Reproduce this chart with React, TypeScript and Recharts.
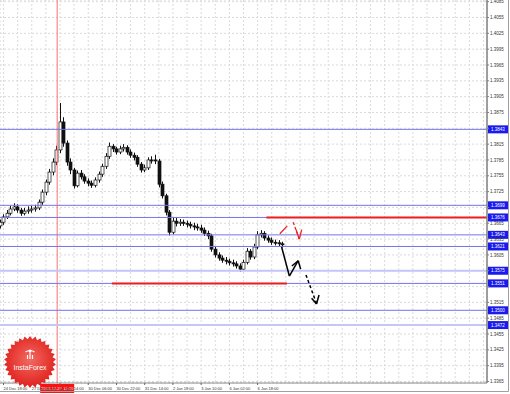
import React from "react";
import { ComposedChart, XAxis, YAxis, CartesianGrid, Bar, ReferenceLine } from "recharts";

// H1 candles (one bar per slot)
const opens = [
  1.3660, 1.3667, 1.3677, 1.3684, 1.3692, 1.3696, 1.3690, 1.3684, 1.3688, 1.3690,
  1.3692, 1.3694, 1.3705, 1.3724, 1.3743, 1.3762, 1.3781, 1.3804, 1.3857, 1.3817,
  1.3781, 1.3766, 1.3736, 1.3760, 1.3753, 1.3745, 1.3741, 1.3737, 1.3747, 1.3758,
  1.3773, 1.3792, 1.3811, 1.3806, 1.3800, 1.3806, 1.3809, 1.3800, 1.3794, 1.3790,
  1.3777, 1.3766, 1.3770, 1.3785, 1.3785, 1.3783, 1.3739, 1.3717, 1.3686, 1.3648,
  1.3669, 1.3665, 1.3667, 1.3665, 1.3663, 1.3660, 1.3658, 1.3656, 1.3652, 1.3646,
  1.3641, 1.3616, 1.3605, 1.3599, 1.3595, 1.3593, 1.3590, 1.3588, 1.3584, 1.3578,
  1.3591, 1.3612, 1.3601, 1.3620, 1.3643, 1.3646, 1.3637, 1.3633, 1.3629, 1.3628,
  1.3626,
];
const closes = [
  1.3667, 1.3677, 1.3684, 1.3692, 1.3696, 1.3690, 1.3684, 1.3688, 1.3690, 1.3692,
  1.3694, 1.3705, 1.3724, 1.3743, 1.3762, 1.3781, 1.3804, 1.3857, 1.3817, 1.3781,
  1.3766, 1.3736, 1.3760, 1.3753, 1.3745, 1.3741, 1.3737, 1.3747, 1.3758, 1.3773,
  1.3792, 1.3811, 1.3806, 1.3800, 1.3806, 1.3809, 1.3800, 1.3794, 1.3790, 1.3777,
  1.3766, 1.3770, 1.3785, 1.3785, 1.3783, 1.3739, 1.3717, 1.3686, 1.3648, 1.3669,
  1.3665, 1.3667, 1.3665, 1.3663, 1.3660, 1.3658, 1.3656, 1.3652, 1.3646, 1.3641,
  1.3616, 1.3605, 1.3599, 1.3595, 1.3593, 1.3590, 1.3588, 1.3584, 1.3578, 1.3591,
  1.3612, 1.3601, 1.3620, 1.3643, 1.3646, 1.3637, 1.3633, 1.3629, 1.3628, 1.3626,
  1.3624,
];
const highs = [
  1.3672, 1.3682, 1.3690, 1.3698, 1.3703, 1.3701, 1.3694, 1.3694, 1.3697, 1.3698,
  1.3700, 1.3710, 1.3729, 1.3748, 1.3768, 1.3788, 1.3812, 1.3893, 1.3866, 1.3822,
  1.3788, 1.3770, 1.3765, 1.3766, 1.3758, 1.3750, 1.3746, 1.3752, 1.3763, 1.3778,
  1.3798, 1.3818, 1.3815, 1.3810, 1.3812, 1.3815, 1.3813, 1.3805, 1.3799, 1.3794,
  1.3781, 1.3776, 1.3790, 1.3792, 1.3795, 1.3787, 1.3744, 1.3721, 1.3690, 1.3675,
  1.3676, 1.3673, 1.3672, 1.3670, 1.3668, 1.3666, 1.3664, 1.3662, 1.3657, 1.3651,
  1.3645, 1.3621, 1.3610, 1.3604, 1.3601, 1.3598, 1.3596, 1.3593, 1.3589, 1.3596,
  1.3618, 1.3616, 1.3626, 1.3650, 1.3652, 1.3650, 1.3642, 1.3638, 1.3634, 1.3633,
  1.3630,
];
const lows = [
  1.3655, 1.3662, 1.3673, 1.3680, 1.3688, 1.3685, 1.3679, 1.3680, 1.3683, 1.3685,
  1.3687, 1.3690, 1.3700, 1.3718, 1.3738, 1.3756, 1.3775, 1.3798, 1.3810, 1.3774,
  1.3758, 1.3731, 1.3733, 1.3748, 1.3740, 1.3735, 1.3732, 1.3733, 1.3742, 1.3753,
  1.3768, 1.3787, 1.3800, 1.3795, 1.3796, 1.3801, 1.3795, 1.3789, 1.3784, 1.3772,
  1.3761, 1.3762, 1.3766, 1.3778, 1.3777, 1.3733, 1.3712, 1.3680, 1.3642, 1.3644,
  1.3659, 1.3660, 1.3660, 1.3657, 1.3655, 1.3652, 1.3651, 1.3647, 1.3641, 1.3635,
  1.3611, 1.3600, 1.3594, 1.3590, 1.3587, 1.3585, 1.3583, 1.3579, 1.3573, 1.3575,
  1.3587, 1.3596, 1.3597, 1.3616, 1.3638, 1.3632, 1.3628, 1.3624, 1.3623, 1.3621,
  1.3619,
];

const priceTicks = [
  1.4085, 1.4055, 1.4025, 1.3995, 1.3965, 1.3935, 1.3905, 1.3875, 1.3845, 1.3815,
  1.3785, 1.3755, 1.3725, 1.3695, 1.3665, 1.3635, 1.3605, 1.3575, 1.3545, 1.3515,
  1.3485, 1.3455, 1.3425, 1.3395, 1.3365,
];
const timeLabels = [
  "24 Dec 18:00", "27 Dec 00:00", "27 Dec 14:00", "30 Dec 06:00", "30 Dec 22:00",
  "31 Dec 14:00", "2 Jan 18:00", "3 Jan 10:00", "6 Jan 02:00", "6 Jan 18:00",
];

// horizontal levels drawn on the chart
const levels = [1.3843, 1.3699, 1.3676, 1.3643, 1.3621, 1.3575, 1.3551, 1.35, 1.3472];
const lightLevels = [1.3575, 1.3472];
const resistance = { from: 75.5, to: 138, price: 1.3676 };
const support = { from: 31.7, to: 81.3, price: 1.3551 };
const marker = { time: 16.2, label: "2013.12.27 11:00" };

// forecast arrows [time, price]
const redSolid = [[79.3, 1.3645], [81.4, 1.366]];
const redDashed = [[83.1, 1.3667], [84.8, 1.3635]];
const redHead = [[83.9, 1.3653], [84.8, 1.3635], [85.5, 1.3653]];
const blackSolid = [[79.8, 1.362], [82.0, 1.3565], [84.5, 1.3594]];
const blackHead = [[82.7, 1.3584], [84.5, 1.3594], [85.2, 1.3578]];
const blackDashed = [[86.7, 1.3567], [89.7, 1.3513]];
const blackHead2 = [[88.3, 1.3523], [89.7, 1.3512], [90.4, 1.3529]];

const candles = opens.map((o, i) => ({
  i,
  open: o,
  close: closes[i],
  high: highs[i],
  low: lows[i],
  range: [lows[i], highs[i]],
}));

const timeTicks = Array.from({ length: 35 }, (_, k) => 1 + 4 * k);
const FONT = "Liberation Sans, Arial, sans-serif";

const Candle = (props: any) => {
  const { x, y, width, height, payload } = props;
  if (x == null || y == null) return null;
  const span = payload.high - payload.low || 1e-6;
  const k = height / span;
  const yOf = (p: number) => y + (payload.high - p) * k;
  const cx = Math.round(x + width / 2) + 0.5;
  const top = yOf(Math.max(payload.open, payload.close));
  const bot = yOf(Math.min(payload.open, payload.close));
  const bull = payload.close > payload.open;
  return (
    <g>
      <line x1={cx} x2={cx} y1={y} y2={y + height} stroke="#111" strokeWidth={1} />
      <rect
        x={cx - 1.5}
        y={top}
        width={3}
        height={Math.max(bot - top, 1)}
        fill={bull ? "#fff" : "#111"}
        stroke="#111"
        strokeWidth={0.7}
      />
    </g>
  );
};

const TimeTick = (props: any) => {
  const { x, y, payload } = props;
  const n = (payload.value - 1) / 8;
  if (!Number.isInteger(n) || n >= timeLabels.length) return null;
  return (
    <g>
      <line x1={x} x2={x} y1={y - 8} y2={y - 6} stroke="#666" />
      <text x={x} y={y - 1} fontSize={4} fontFamily={FONT} fill="#333" textAnchor="start">
        {timeLabels[n]}
      </text>
    </g>
  );
};

// price labels sitting under a level box are hidden, as in the terminal
const PriceTick = (props: any) => {
  const { x, y, payload } = props;
  const covered = levels.some((v) => Math.abs(v - payload.value) * 5275 < 3.5);
  if (covered) return null;
  return (
    <text x={x} y={y + 1.6} fontSize={4.5} fontFamily={FONT} fill="#333" textAnchor="start">
      {payload.value.toFixed(4)}
    </text>
  );
};

const levelLabel = (value: number) => (props: any) => {
  const vb = props.viewBox;
  if (!vb) return null;
  const x = vb.x + vb.width + 1;
  return (
    <g>
      <rect x={x} y={vb.y - 4} width={20} height={8} fill="#1a1aee" />
      <text x={x + 10} y={vb.y + 1.6} fontSize={4.5} fontFamily={FONT} fill="#fff" textAnchor="middle">
        {value.toFixed(4)}
      </text>
    </g>
  );
};

const markerLabel = (props: any) => {
  const vb = props.viewBox;
  if (!vb) return null;
  const bottom = vb.y + vb.height;
  return (
    <g>
      <rect x={vb.x - 17} y={bottom + 1} width={34} height={9} fill="#ff1010" />
      <text x={vb.x} y={bottom + 7} fontSize={4.2} fontFamily={FONT} fill="#fff" textAnchor="middle">
        {marker.label}
      </text>
    </g>
  );
};

const seg = (pts: number[][]) => pts.slice(1).map((p, j) => [pts[j], p]);

const starPoints = (cx: number, cy: number, r1: number, r2: number, n: number) => {
  const pts: string[] = [];
  for (let k = 0; k < n * 2; k++) {
    const r = k % 2 === 0 ? r1 : r2;
    const a = (Math.PI * k) / n - Math.PI / 2;
    pts.push(`${(cx + r * Math.cos(a)).toFixed(2)},${(cy + r * Math.sin(a)).toFixed(2)}`);
  }
  return pts.join(" ");
};

export default function App() {
  return (
    <div style={{ position: "absolute", left: 0, top: 0, width: 510, height: 394, background: "#fff" }}>
      <ComposedChart
        width={510}
        height={394}
        data={candles}
        margin={{ top: 0, right: 0, bottom: 0, left: 0 }}
      >
        <CartesianGrid stroke="#dadada" strokeDasharray="2 2" />
        <XAxis
          dataKey="i"
          type="number"
          domain={[0, 138]}
          ticks={timeTicks}
          interval={0}
          height={11}
          axisLine={{ stroke: "#888" }}
          tickLine={false}
          tick={<TimeTick />}
          allowDataOverflow
        />
        <YAxis
          orientation="right"
          type="number"
          width={23}
          domain={[1.33622, 1.40882]}
          ticks={priceTicks}
          interval={0}
          tickSize={2}
          tickMargin={1}
          axisLine={{ stroke: "#808080", strokeWidth: 1.5 }}
          tickLine={{ stroke: "#808080" }}
          tick={<PriceTick />}
          allowDataOverflow
        />
        <ReferenceLine x={marker.time} stroke="#ff7070" strokeWidth={1} label={markerLabel} />
        {levels.map((v) => (
          <ReferenceLine
            key={v}
            y={v}
            stroke={lightLevels.includes(v) ? "#c3c6f7" : "#7474ee"}
            strokeWidth={lightLevels.includes(v) ? 2 : 1}
            label={levelLabel(v)}
          />
        ))}
        <ReferenceLine
          segment={[{ x: resistance.from, y: resistance.price }, { x: resistance.to, y: resistance.price }]}
          stroke="#ee1c1c"
          strokeWidth={2}
        />
        <ReferenceLine
          segment={[{ x: support.from, y: support.price }, { x: support.to, y: support.price }]}
          stroke="#ee1c1c"
          strokeWidth={2}
        />
        <Bar dataKey="range" barSize={3} shape={<Candle />} isAnimationActive={false} />
        {[...seg(redSolid), ...seg(redHead)].map((s, j) => (
          <ReferenceLine key={"rs" + j} segment={s.map(([x, y]) => ({ x, y }))} stroke="#f02020" strokeWidth={1.3} />
        ))}
        {seg(redDashed).map((s, j) => (
          <ReferenceLine key={"rd" + j} segment={s.map(([x, y]) => ({ x, y }))} stroke="#f02020" strokeWidth={1.3} strokeDasharray="3 2" />
        ))}
        {[...seg(blackSolid), ...seg(blackHead), ...seg(blackHead2)].map((s, j) => (
          <ReferenceLine key={"bs" + j} segment={s.map(([x, y]) => ({ x, y }))} stroke="#000" strokeWidth={1.5} />
        ))}
        {seg(blackDashed).map((s, j) => (
          <ReferenceLine key={"bd" + j} segment={s.map(([x, y]) => ({ x, y }))} stroke="#000" strokeWidth={1.5} strokeDasharray="3 2.5" />
        ))}
      </ComposedChart>
      <svg
        width={510}
        height={394}
        style={{ position: "absolute", left: 0, top: 0, pointerEvents: "none" }}
      >
        <defs>
          <radialGradient id="logoFill" cx="50%" cy="45%" r="55%">
            <stop offset="0%" stopColor="#f26a62" />
            <stop offset="100%" stopColor="#e0201c" />
          </radialGradient>
        </defs>
        <line x1={508.5} x2={508.5} y1={0} y2={391.5} stroke="#a0a0a0" />
        <line x1={0} x2={508.5} y1={391.5} y2={391.5} stroke="#a0a0a0" />
        <polygon points={starPoints(30, 362, 26, 23, 30)} fill="url(#logoFill)" />
        <g stroke="#fff" strokeWidth={1.2} fill="none">
          <circle cx={30} cy={351} r={1.6} fill="#fff" stroke="none" />
          <path d="M25.5 352 Q30 349 34.5 352" />
          <path d="M30 352.5 L30 359" />
          <path d="M27.5 359 L27.5 355 M32.5 359 L32.5 355" />
        </g>
        <text x={30} y={370} fontSize={7} fontFamily={FONT} fill="#fff" textAnchor="middle">
          InstaForex
        </text>
      </svg>
    </div>
  );
}
